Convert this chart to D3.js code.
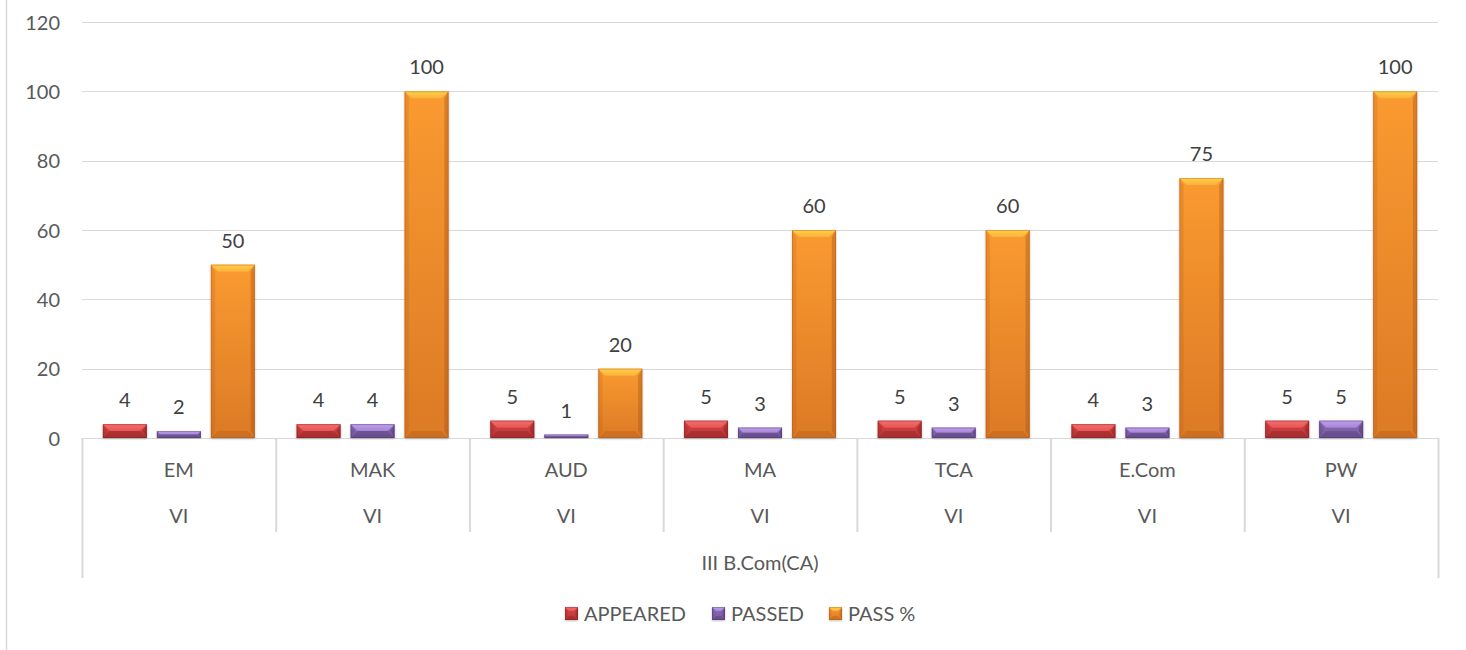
<!DOCTYPE html>
<html><head><meta charset="utf-8">
<script src="https://cdn.jsdelivr.net/npm/d3@7"></script>
<style>body{margin:0;background:#fff;}svg{display:block;font-family:Lato,"Open Sans",sans-serif;}</style>
</head><body>
<svg id="c" width="1466" height="650"></svg>
<script>
const subjects = ["EM","MAK","AUD","MA","TCA","E.Com","PW"];
const semesters = ["VI","VI","VI","VI","VI","VI","VI"];
const groupLabel = "III B.Com(CA)";
const seriesNames = ["APPEARED","PASSED","PASS %"];
const appeared = [4,4,5,5,5,4,5];
const passed = [2,4,1,3,3,3,5];
const passPct = [50,100,20,60,60,75,100];
const yTicks = [0,20,40,60,80,100,120];

(function(){
const svg = d3.select("#c");
const W=1466,H=650;
const FS=20;
const pLeft=82,pRight=1438,pTop=22,pBottom=438;
const x = d3.scaleBand().domain(subjects).range([pLeft,pRight]).paddingInner(0).paddingOuter(0);
const y = d3.scaleLinear().domain([0,120]).range([pBottom,pTop]);
const xs = d3.scaleBand().domain(seriesNames).range([0,x.bandwidth()]).paddingInner(0.185).paddingOuter(0.386);

const colors = [
 {bodyTop:"#d84545", bodyBot:"#b83436", top:"#f27070", topB:"#e85454", dark:"#7a1c1e"},
 {bodyTop:"#8a6bb4", bodyBot:"#765a9e", top:"#c2a0ee", topB:"#a684d6", dark:"#463264"},
 {bodyTop:"#fa9a30", bodyBot:"#dc7a26", top:"#ffd04a", topB:"#fbb23a", dark:"#a85416"}
];
const defs = svg.append("defs");
colors.forEach((c,i)=>{
  const g = defs.append("linearGradient").attr("id","body"+i).attr("x1","0").attr("x2","0").attr("y1","0").attr("y2","1");
  g.append("stop").attr("offset","0").attr("stop-color",c.bodyTop);
  g.append("stop").attr("offset","1").attr("stop-color",c.bodyBot);
  const t = defs.append("linearGradient").attr("id","top"+i).attr("x1","0").attr("x2","0").attr("y1","0").attr("y2","1");
  t.append("stop").attr("offset","0").attr("stop-color",c.top);
  t.append("stop").attr("offset","1").attr("stop-color",c.topB);
});
const f = defs.append("filter").attr("id","sh").attr("x","-20%").attr("y","-5%").attr("width","140%").attr("height","115%");
f.append("feDropShadow").attr("dx",0).attr("dy",1).attr("stdDeviation",1.2).attr("flood-color","#000").attr("flood-opacity",0.25);

svg.append("line").attr("x1",6.5).attr("x2",6.5).attr("y1",0).attr("y2",H).attr("stroke","#d9d9d9").attr("stroke-width",1.5);

svg.append("g").selectAll("line").data(yTicks).join("line")
  .attr("x1",pLeft).attr("x2",pRight).attr("y1",d=>Math.round(y(d))+0.5).attr("y2",d=>Math.round(y(d))+0.5)
  .attr("stroke","#d9d9d9").attr("stroke-width",1);

const yAxis = d3.axisLeft(y).tickValues(yTicks).tickSize(0).tickPadding(0);
const ya = svg.append("g").attr("transform",`translate(${pLeft-22},0)`).call(yAxis);
ya.select(".domain").remove();
ya.selectAll("text").attr("font-size",FS).attr("fill","#595959").attr("font-family","Lato,'Open Sans',sans-serif").attr("dy","0.35em");

const axisCol="#d9d9d9";
const ag = svg.append("g");
const bounds = subjects.map(s=>x(s)).concat([pRight]);
bounds.forEach((b,i)=>{
  const outer = (i===0||i===bounds.length-1);
  ag.append("line").attr("x1",b+0.5).attr("x2",b+0.5).attr("y1",pBottom).attr("y2",outer?578:532)
    .attr("stroke",axisCol).attr("stroke-width",2);
});
ag.selectAll("text.sub").data(subjects).join("text").attr("class","sub")
  .attr("x",d=>x(d)+x.bandwidth()/2).attr("y",477).attr("text-anchor","middle")
  .attr("font-size",FS).attr("fill","#595959").text(d=>d);
ag.selectAll("text.sem").data(subjects).join("text").attr("class","sem")
  .attr("x",d=>x(d)+x.bandwidth()/2).attr("y",523).attr("text-anchor","middle")
  .attr("font-size",FS).attr("fill","#595959").text((d,i)=>semesters[i]);
ag.append("text").attr("x",(pLeft+pRight)/2).attr("y",570).attr("text-anchor","middle")
  .attr("font-size",FS).attr("fill","#595959").text(groupLabel);

const series = [appeared,passed,passPct];
function bevelBar(g,x0,w,yTop,yBot,ci,bs){
  const h = yBot-yTop;
  const b = Math.min(bs||7, h/2);
  const c = colors[ci];
  const gg = g.append("g").attr("filter","url(#sh)");
  gg.append("rect").attr("x",x0).attr("y",yTop).attr("width",w).attr("height",h).attr("fill",`url(#body${ci})`);
  gg.append("polygon").attr("points",`${x0},${yTop} ${x0+w},${yTop} ${x0+w-b},${yTop+b} ${x0+b},${yTop+b}`).attr("fill",`url(#top${ci})`);
  gg.append("polygon").attr("points",`${x0},${yBot} ${x0+w},${yBot} ${x0+w-b},${yBot-b} ${x0+b},${yBot-b}`).attr("fill",c.dark).attr("opacity",0.3);
  gg.append("polygon").attr("points",`${x0},${yTop} ${x0+b*0.6},${yTop+b} ${x0+b*0.6},${yBot-b} ${x0},${yBot}`).attr("fill",c.dark).attr("opacity",0.18);
  gg.append("polygon").attr("points",`${x0+w},${yTop} ${x0+w-b*0.6},${yTop+b} ${x0+w-b*0.6},${yBot-b} ${x0+w},${yBot}`).attr("fill",c.dark).attr("opacity",0.4);
  gg.append("rect").attr("x",x0+0.5).attr("y",yTop+0.5).attr("width",w-1).attr("height",Math.max(0,h-1)).attr("fill","none").attr("stroke",c.dark).attr("stroke-opacity",0.35);
}
const bg = svg.append("g");
series.forEach((vals,si)=>{
  subjects.forEach((s,i)=>{
    const x0 = x(s)+xs(seriesNames[si]);
    const w = xs.bandwidth();
    bevelBar(bg,x0,w,y(vals[i]),y(0),si,7);
    bg.append("text").attr("x",x0+w/2).attr("y",y(vals[i])-17).attr("text-anchor","middle")
      .attr("font-size",FS).attr("fill","#404040").text(vals[i]);
  });
});

const legX=[565,712,829];
const lg = svg.append("g");
seriesNames.forEach((n,i)=>{
  const gx = legX[i];
  bevelBar(lg,gx,13,607,620,i,4);
  lg.append("text").attr("x",gx+19).attr("y",621).attr("font-size",FS).attr("fill","#595959").text(n);
});
})();
</script>
</body></html>
